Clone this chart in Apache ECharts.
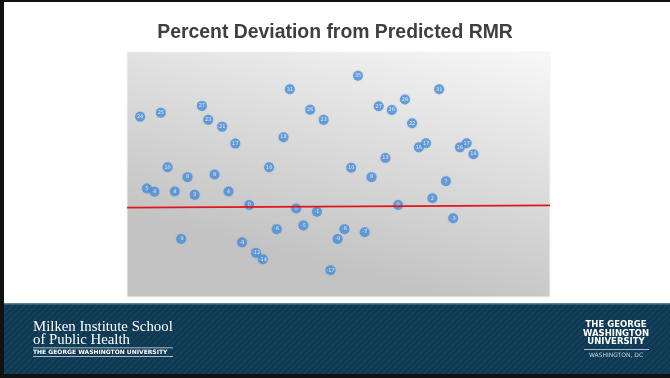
<!DOCTYPE html>
<html>
<head>
<meta charset="utf-8">
<script src="https://cdn.jsdelivr.net/npm/echarts@6/dist/echarts.min.js"></script>
<style>
  html, body { margin: 0; padding: 0; background: #ffffff; }
  #chart { width: 670px; height: 378px; }
</style>
</head>
<body>
<div id="chart"></div>
<script>
// Subject position along the horizontal axis (0-100 scale)
const subjectX = [
  3.1, 8.0, 17.7, 19.2, 22.5, 25.6, 38.5, 37.0, 43.3, 46.5,
  54.6, 59.5, 62.6, 65.7, 67.4, 73.8, 69.0, 70.7, 78.7, 80.3,
  81.9, 9.6, 14.3, 20.7, 4.7, 6.5, 11.3, 16.0, 24.0, 33.6,
  53.0, 61.1, 57.8, 75.4, 72.2, 28.9, 40.0, 44.9, 64.1, 77.1,
  12.8, 27.2, 35.4, 41.7, 51.4, 49.8, 56.2, 30.5, 32.1, 48.1
];
// Percent deviation of measured RMR from the predicted value
const pctDeviation = [
  23.8, 24.9, 26.7, 23.0, 21.2, 16.7, 31.1, 18.4, 25.7, 23.0,
  34.7, 26.6, 25.6, 28.4, 22.1, 31.1, 15.7, 16.8, 15.7, 16.8,
  13.9, 10.4, 7.8, 8.5, 4.8, 3.9, 4.0, 3.1, 4.0, 10.4,
  10.3, 12.9, 7.8, 6.7, 2.2, 0.4, -0.5, -1.4, 0.4, -3.1,
  -8.6, -9.5, -6.0, -5.0, -6.0, -8.6, -6.8, -12.3, -14.0, -16.9
];
// Reference line (zero deviation) end heights
const baselineEnds = [-0.3, 0.3];

const titleText = 'Percent Deviation from Predicted RMR';
const schoolLines = ['Milken Institute School', 'of Public Health'];
const schoolSub = 'THE GEORGE WASHINGTON UNIVERSITY';
const gwLines = ['THE GEORGE', 'WASHINGTON', 'UNIVERSITY'];
const gwSub = 'WASHINGTON, DC';

const points = subjectX.map((x, i) => [x, pctDeviation[i]]);

const chart = echarts.init(document.getElementById('chart'), null, { renderer: 'canvas' });

// striped navy footer band
const stripeCanvas = document.createElement('canvas');
stripeCanvas.width = 6; stripeCanvas.height = 6;
(function () {
  const c = stripeCanvas.getContext('2d');
  c.fillStyle = '#0d3954';
  c.fillRect(0, 0, 6, 6);
  c.strokeStyle = 'rgba(255,255,255,0.06)';
  c.lineWidth = 1.2;
  c.beginPath();
  c.moveTo(0, 6); c.lineTo(6, 0);
  c.moveTo(-3, 3); c.lineTo(3, -3);
  c.moveTo(3, 9); c.lineTo(9, 3);
  c.stroke();
})();

const serif = '"Liberation Serif", "DejaVu Serif", serif';
const sans = '"DejaVu Sans", sans-serif';

chart.setOption({
  animation: false,
  backgroundColor: '#ffffff',
  title: {
    text: titleText,
    left: 'center',
    top: 18,
    textStyle: { fontFamily: 'Liberation Sans, Arial, sans-serif', fontSize: 19.4, fontWeight: 'bold', color: '#3f3f3f' }
  },
  grid: {
    left: 127, top: 52, width: 423, height: 245,
    show: true,
    borderColor: '#f4f4f4',
    borderWidth: 1,
    backgroundColor: new echarts.graphic.LinearGradient(1, 0, 0.84, 1.04, [
      { offset: 0, color: '#f8f8f8' },
      { offset: 0.5, color: '#dddddd' },
      { offset: 1, color: '#c3c3c3' }
    ])
  },
  xAxis: { type: 'value', min: 0, max: 100, show: false },
  yAxis: { type: 'value', min: -24, max: 41, show: false },
  series: [{
    type: 'scatter',
    data: points,
    symbol: 'circle',
    symbolSize: 10,
    itemStyle: { color: '#4a90da', shadowColor: 'rgba(40,90,150,0.25)', shadowBlur: 2 },
    label: {
      show: true,
      position: 'inside',
      formatter: p => Math.round(p.value[1]).toString(),
      color: '#ffffff',
      fontSize: 5,
      fontFamily: 'DejaVu Sans, sans-serif'
    },
    markLine: {
      silent: true,
      symbol: 'none',
      label: { show: false },
      lineStyle: { color: '#e3141b', width: 1.6, type: 'solid' },
      data: [[{ coord: [0, baselineEnds[0]] }, { coord: [100, baselineEnds[1]] }]]
    },
    z: 3
  }],
  graphic: [
    // slide frame edges
    { type: 'rect', shape: { x: 0, y: 0, width: 670, height: 2 }, style: { fill: '#111111' }, silent: true },
    { type: 'rect', shape: { x: 0, y: 0, width: 4, height: 378 }, style: { fill: '#111111' }, silent: true },
    // footer band
    { type: 'rect', shape: { x: 4, y: 304, width: 666, height: 70 }, style: { fill: { image: stripeCanvas, repeat: 'repeat' } }, silent: true },
    { type: 'rect', shape: { x: 4, y: 303, width: 666, height: 1.5 }, style: { fill: '#5d8499' }, silent: true },
    { type: 'rect', shape: { x: 0, y: 374, width: 670, height: 4 }, style: { fill: '#111111' }, silent: true },
    // school wordmark
    { type: 'text', x: 33, y: 327, style: { text: schoolLines[0], fill: '#ffffff', verticalAlign: 'middle', font: '14.8px ' + serif }, silent: true },
    { type: 'text', x: 33, y: 340, style: { text: schoolLines[1], fill: '#ffffff', verticalAlign: 'middle', font: '14.8px ' + serif }, silent: true },
    { type: 'rect', shape: { x: 33, y: 347.5, width: 140, height: 0.8 }, style: { fill: '#dfe7ec' }, silent: true },
    { type: 'text', x: 33, y: 352, style: { text: schoolSub, fill: '#ffffff', verticalAlign: 'middle', font: 'bold 6px ' + sans }, silent: true },
    { type: 'rect', shape: { x: 33, y: 356, width: 140, height: 0.8 }, style: { fill: '#dfe7ec' }, silent: true },
    // university wordmark
    { type: 'text', x: 616, y: 325, style: { text: gwLines[0], fill: '#ffffff', align: 'center', verticalAlign: 'middle', font: 'bold 8.5px ' + sans }, silent: true },
    { type: 'text', x: 616, y: 333.5, style: { text: gwLines[1], fill: '#ffffff', align: 'center', verticalAlign: 'middle', font: 'bold 8.5px ' + sans }, silent: true },
    { type: 'text', x: 616, y: 342, style: { text: gwLines[2], fill: '#ffffff', align: 'center', verticalAlign: 'middle', font: 'bold 8.5px ' + sans }, silent: true },
    { type: 'rect', shape: { x: 584, y: 349, width: 65, height: 0.8 }, style: { fill: '#dfe7ec' }, silent: true },
    { type: 'text', x: 616, y: 355, style: { text: gwSub, fill: '#c9d6de', align: 'center', verticalAlign: 'middle', font: '6px ' + sans }, silent: true }
  ]
});
</script>
</body>
</html>
